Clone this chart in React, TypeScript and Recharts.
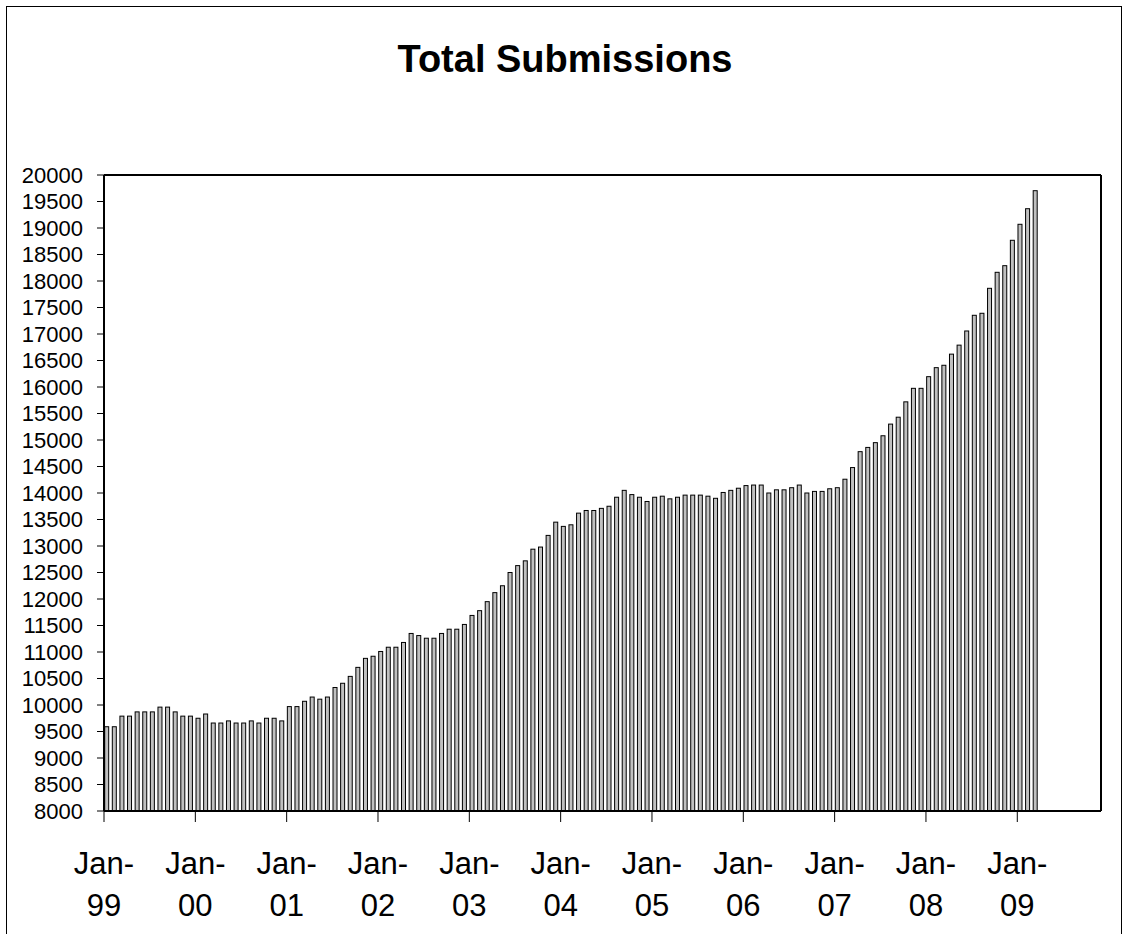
import React from 'react';
import { BarChart, Bar, XAxis, YAxis, ReferenceLine } from 'recharts';

const FONT = '"Liberation Sans", Arial, Helvetica, sans-serif';

// Month index 0 = Jan-99, Jan-99 .. Mar-09
const submissions: number[] = [
  9590, 9590, 9790, 9790, 9870, 9870, 9870, 9960, 9960, 9870, 9790, 9790,
  9750, 9830, 9660, 9660, 9700, 9660, 9660, 9700, 9660, 9750, 9750, 9700,
  9970, 9970, 10070, 10150, 10110, 10150, 10330, 10410, 10540, 10710, 10880, 10920,
  11010, 11090, 11090, 11180, 11350, 11310, 11260, 11260, 11350, 11430, 11430, 11520,
  11690, 11780, 11950, 12120, 12250, 12500, 12630, 12720, 12940, 12980, 13200, 13450,
  13370, 13400, 13620, 13670, 13670, 13710, 13750, 13920, 14050, 13970, 13920, 13840,
  13920, 13940, 13890, 13920, 13960, 13960, 13960, 13940, 13900, 14010, 14050, 14090,
  14140, 14150, 14150, 14000, 14060, 14060, 14100, 14150, 14000, 14030, 14030, 14080,
  14100, 14260, 14480, 14780, 14860, 14950, 15080, 15300, 15430, 15720, 15975, 15975,
  16195, 16365, 16410, 16620, 16790, 17057, 17353, 17391, 17862, 18164, 18289, 18768,
  19070, 19364, 19704,
];

const xTickLabels: string[] = [
  'Jan-99', 'Jan-00', 'Jan-01', 'Jan-02', 'Jan-03', 'Jan-04',
  'Jan-05', 'Jan-06', 'Jan-07', 'Jan-08', 'Jan-09',
];

const yTicks: number[] = [
  8000, 8500, 9000, 9500, 10000, 10500, 11000, 11500, 12000, 12500, 13000, 13500,
  14000, 14500, 15000, 15500, 16000, 16500, 17000, 17500, 18000, 18500, 19000, 19500, 20000,
];

const axisMonths = 131; // Jan-99 .. Nov-09 on the category axis
const yMin = 8000;
const yMax = 20000;
const title = 'Total Submissions';

const data = submissions.map((v, i) => ({ t: i, v }));
const xTicks = xTickLabels.map((_, i) => i * 12);

const XTick = (props: any) => {
  const { x, y, payload } = props;
  const label = xTickLabels[Math.round(payload.value / 12)] || '';
  const [a, b] = label.split('-');
  return (
    <g>
      <text x={x} y={y + 52} textAnchor="middle" fontSize={31} fontFamily={FONT} fill="#000">
        {a + '-'}
      </text>
      <text x={x} y={y + 94} textAnchor="middle" fontSize={31} fontFamily={FONT} fill="#000">
        {b}
      </text>
    </g>
  );
};

const BarShape = (props: any) => {
  const { x, y, width, height } = props;
  if (!height || height <= 0) return null;
  return (
    <rect
      x={x + width / 2 + 0.5}
      y={y}
      width={width}
      height={height}
      fill="#c0c0c0"
      stroke="#000"
      strokeWidth={1}
    />
  );
};

export default function App() {
  return (
    <div
      style={{
        position: 'absolute',
        left: 0,
        top: 0,
        width: 1125,
        height: 934,
        overflow: 'hidden',
        background: '#fff',
      }}
    >
      <div
        style={{
          position: 'absolute',
          left: 6,
          top: 6,
          width: 1116,
          height: 1000,
          border: '1px solid #000',
          boxSizing: 'border-box',
        }}
      />
      <svg
        width={1125}
        height={120}
        style={{ position: 'absolute', left: 0, top: 0 }}
      >
        <text
          x={565}
          y={72}
          textAnchor="middle"
          fontSize={38}
          fontWeight="bold"
          fontFamily={FONT}
          fill="#000"
        >
          {title}
        </text>
      </svg>
      <div style={{ position: 'absolute', left: 0, top: 0 }}>
        <BarChart
          width={1125}
          height={934}
          data={data}
          margin={{ top: 175, right: 24, bottom: 3, left: 4 }}
        >
          <XAxis
            dataKey="t"
            type="number"
            domain={[0, axisMonths]}
            ticks={xTicks}
            interval={0}
            tick={<XTick />}
            tickSize={11}
            tickMargin={0}
            height={120}
            axisLine={{ stroke: '#000', strokeWidth: 2 }}
            tickLine={{ stroke: '#000', strokeWidth: 1 }}
            allowDataOverflow
          />
          <YAxis
            type="number"
            domain={[yMin, yMax]}
            ticks={yTicks}
            interval={0}
            width={100}
            tickSize={7}
            tickMargin={14}
            allowDataOverflow
            axisLine={{ stroke: '#000', strokeWidth: 2 }}
            tickLine={{ stroke: '#000', strokeWidth: 1 }}
            tick={{ fill: '#000', fontSize: 22, fontFamily: FONT }}
          />
          <ReferenceLine y={yMax} stroke="#000" strokeWidth={2} ifOverflow="extendDomain" />
          <ReferenceLine x={axisMonths} stroke="#000" strokeWidth={2} ifOverflow="extendDomain" />
          <Bar dataKey="v" barSize={4} shape={<BarShape />} isAnimationActive={false} />
        </BarChart>
      </div>
    </div>
  );
}
